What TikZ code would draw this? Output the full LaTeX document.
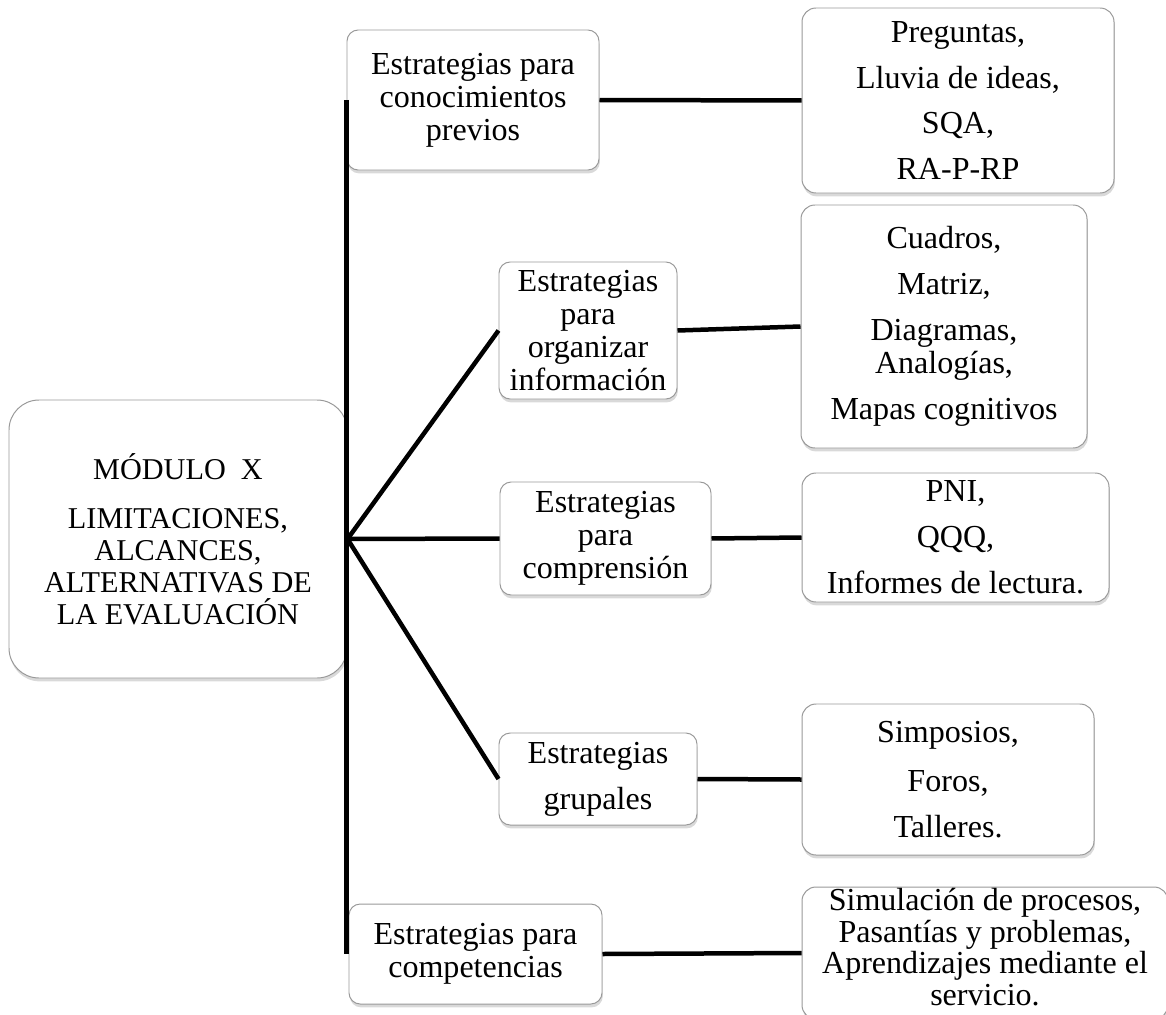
\documentclass[tikz,border=0pt]{standalone}
\usepackage{fontspec}
\setmainfont{Liberation Serif}
\usepackage{tikz}
\usetikzlibrary{shadows}

\tikzset{
    box/.style={
        draw=gray!80,
        line width=0.7pt,
        fill=white,
        align=center,
        inner sep=0pt,
        drop shadow={shadow xshift=0.6pt, shadow yshift=-2.4pt, opacity=0.3},
        font=\fontsize{22.8}{23.5}\selectfont
    },
    mainbox/.style={
        box,
        rounded corners=0.75cm,
        font=\fontsize{21.5}{22.8}\selectfont
    },
    stratbox/.style={
        box,
        rounded corners=0.28cm
    },
    listbox/.style={
        box,
        rounded corners=0.35cm,
        font=\fontsize{22.8}{32.7}\selectfont
    },
    link/.style={
        line width=3.2pt
    }
}

\begin{document}
\begin{tikzpicture}
                \useasboundingbox (0,0) rectangle (29.15,-25.375);

                \node[
                    mainbox,
                    minimum width=8.45cm,
                    minimum height=6.95cm
                    ] (modulo) at (4.45,-13.475) {M\'ODULO\ \ X\\[12pt] LIMITACIONES,\\ ALCANCES,\\ ALTERNATIVAS DE\\ LA EVALUACI\'ON};

                \node[
                    stratbox,
                    minimum width=6.3cm,
                    minimum height=3.5cm
                    ] (previos) at (11.825,-2.5) {Estrategias para\\ conocimientos\\ previos};

                \node[
                    stratbox,
                    minimum width=4.45cm,
                    minimum height=3.425cm
                    ] (organizar) at (14.7,-8.2625) {Estrategias\\ para\\ organizar\\ informaci\'on};

                \node[
                    stratbox,
                    minimum width=5.275cm,
                    minimum height=2.825cm
                    ] (comprension) at (15.1375,-13.4625) {Estrategias\\ para\\ comprensi\'on};

                \node[
                    stratbox,
                    minimum width=4.95cm,
                    minimum height=2.3cm
                    ] (grupales) at (14.95,-19.475) {Estrategias\\[9pt] grupales};

                \node[
                    stratbox,
                    minimum width=6.325cm,
                    minimum height=2.5cm
                    ] (competencias) at (11.8875,-23.85) {Estrategias para\\ competencias};

                \node[
                    listbox,
                    minimum width=7.8cm,
                    minimum height=4.625cm
                    ] (previosL) at (23.95,-2.5125) {Preguntas,\\ Lluvia de ideas,\\ SQA,\\ RA-P-RP};

                \node[
                    listbox,
                    minimum width=7.15cm,
                    minimum height=6.075cm
                    ] (organizarL) at (23.6,-8.1625) {Cuadros,\\ Matriz,\\ Diagramas,\\[-9pt] Analog\'ias,\\ Mapas cognitivos};

                \node[
                    listbox,
                    minimum width=7.675cm,
                    minimum height=3.225cm
                    ] (comprensionL) at (23.8875,-13.4375) {PNI,\\ QQQ,\\ Informes de lectura.};

                \node[
                    listbox,
                    minimum width=7.3cm,
                    minimum height=3.775cm
                    ] (grupalesL) at (23.7,-19.4875) {Simposios,\\[2pt] Foros,\\ Talleres.};

                \node[
                    stratbox,
                    rounded corners=0.35cm,
                    font=\fontsize{22.8}{22.5}\selectfont,
                    text depth=0.3cm,
                    minimum width=9.15cm,
                    minimum height=3.3cm
                    ] (competenciasL) at (24.625,-23.825) {Simulaci\'on de procesos,\\ Pasant\'ias y problemas,\\ Aprendizajes mediante el\\ servicio.};

                \draw[link] (previos.west) -- (previos.west |- competencias.west);
                \draw[link] (modulo.east) -- (organizar.west);
                \draw[link] (modulo.east) -- (comprension.west);
                \draw[link] (modulo.east) -- (grupales.west);

                \draw[link] (previos.east) -- (previosL.west);
                \draw[link] (organizar.east) -- (organizarL.west);
                \draw[link] (comprension.east) -- (comprensionL.west);
                \draw[link] (grupales.east) -- (grupalesL.west);
                \draw[link] (competencias.east) -- (competenciasL.west);

            \end{tikzpicture}
\end{document}
